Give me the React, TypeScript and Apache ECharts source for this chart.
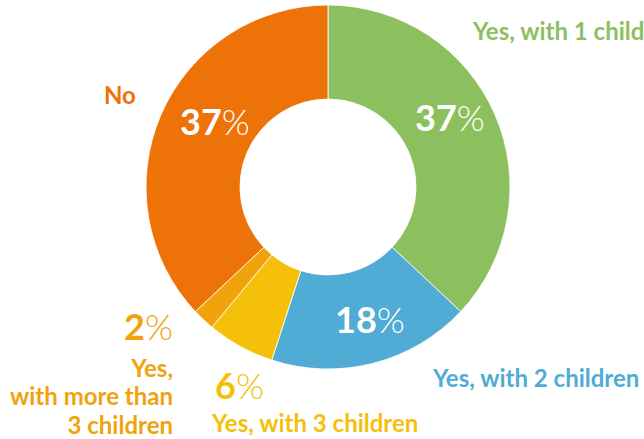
import React, { useEffect, useRef } from "react";
import * as echarts from "echarts";

const categories = ["Yes, with 1 child", "Yes, with 2 children", "Yes, with 3 children", "Yes, with more than 3 children", "No"];
const values = [37, 18, 6, 2, 37];
const colors = ["#8cc05f", "#50acd4", "#f5c00a", "#f0a30d", "#ed7309"];

const catLines: string[][] = [["Yes, with 1 child"], ["Yes, with 2 children"], ["Yes, with 3 children"], ["Yes,", "with more than", "3 children"], ["No"]];
const catPos = [
  [473, 30, "left"],
  [433, 377, "left"],
  [212, 422, "left"],
  [173, 367, "right"],
  [104, 94, "left"],
];
const pctPos = [
  [415, 117, "left", "#ffffff"],
  [335, 319, "left", "#ffffff"],
  [215, 385, "left", null],
  [173, 326, "right", null],
  [180, 121, "left", "#ffffff"],
];
const LINE_H = 28.5;

export default function App() {
  const ref = useRef<HTMLDivElement>(null);
  useEffect(() => {
    document.body.style.margin = "0";
    const chart = echarts.init(ref.current!, null, { renderer: "svg" });
    const graphics: any[] = [];
    categories.forEach((c, i) => {
      const [x, y, align] = catPos[i] as any;
      catLines[i].forEach((line, j) => {
        graphics.push({
          type: "text",
          z: 100,
          x: x,
          y: y + j * LINE_H,
          style: {
            text: line,
            fill: colors[i],
            font: "bold 24px Lato",
            align: align,
            verticalAlign: "middle",
          },
        });
      });
      const [px, py, palign, pcol] = pctPos[i] as any;
      const col = pcol || colors[i];
      graphics.push({
        type: "text",
        z: 100,
        x: px,
        y: py,
        style: {
          text: `{n|${values[i]}}{p|%}`,
          align: palign,
          verticalAlign: "middle",
          rich: {
            n: { fontFamily: "Lato", fontWeight: "bold", fontSize: 36, fill: col, color: col },
            p: { fontFamily: "Lato", fontWeight: 300, fontSize: 36, fill: col, color: col },
          },
        },
      });
    });
    chart.setOption({
      animation: false,
      series: [
        {
          type: "pie",
          z: 1,
          center: [328, 187],
          radius: [88, 182],
          startAngle: 90,
          clockwise: true,
          label: { show: false },
          labelLine: { show: false },
          itemStyle: { borderColor: "#ffffff", borderWidth: 0.8 },
          data: categories.map((c, i) => ({ name: c, value: values[i], itemStyle: { color: colors[i] } })),
        },
      ],
      graphic: { elements: graphics },
    });
    return () => chart.dispose();
  }, []);
  return <div ref={ref} style={{ width: 644, height: 439 }} />;
}
